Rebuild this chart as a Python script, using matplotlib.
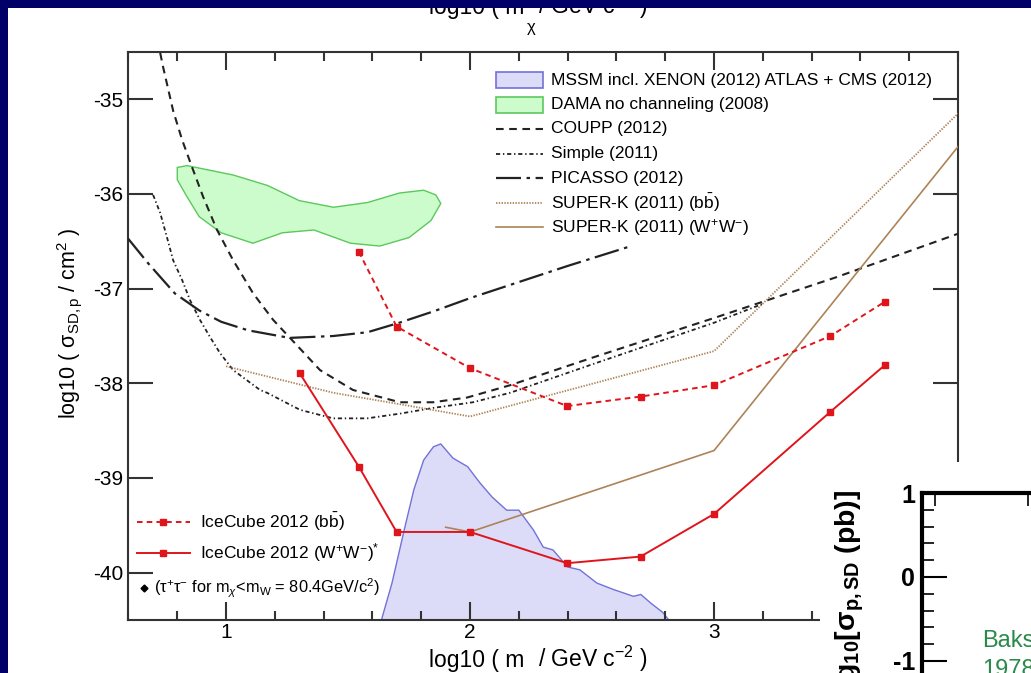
import numpy as np
import matplotlib.pyplot as plt
from matplotlib.patches import Rectangle, Polygon
from matplotlib.lines import Line2D
from matplotlib.transforms import Affine2D

plt.rcParams['font.family'] = ['Liberation Sans', 'DejaVu Sans']
plt.rcParams['mathtext.fontset'] = 'custom'
plt.rcParams['mathtext.rm'] = 'Liberation Sans'
plt.rcParams['mathtext.it'] = 'Liberation Sans:italic'
plt.rcParams['mathtext.bf'] = 'Liberation Sans:bold'
plt.rcParams['axes.unicode_minus'] = False
plt.rcParams['lines.scale_dashes'] = False

# ---- data (log10 of mass in GeV, log10 of cross section in cm^2) ----
ic_bb_mass = [35, 50, 100, 250, 500, 1000, 3000, 5000]
ic_bb = [-36.61, -37.40, -37.84, -38.24, -38.14, -38.02, -37.50, -37.14]
ic_ww_mass = [20, 35, 50, 100, 250, 500, 1000, 3000, 5000]
ic_ww = [-37.89, -38.88, -39.57, -39.57, -39.90, -39.83, -39.38, -38.30, -37.81]

coupp_x = [0.73, 0.742, 0.783, 0.82, 0.861, 0.906, 0.963, 1.029, 1.111, 1.193, 1.262,
           1.385, 1.52, 1.713, 1.848, 1.988, 2.164, 2.5, 3.0, 3.5, 4.0]
coupp_y = [-34.51, -34.66, -35.12, -35.43, -35.72, -36.03, -36.38, -36.70, -37.05, -37.33, -37.52,
           -37.86, -38.07, -38.20, -38.20, -38.15, -38.02, -37.73, -37.31, -36.88, -36.42]

simple_x = [0.701, 0.73, 0.758, 0.783, 0.82, 0.852, 0.893, 0.934, 0.975, 1.029, 1.139, 1.168,
            1.303, 1.439, 1.578, 1.713, 1.848, 2.012, 2.164, 2.5, 3.0, 3.2]
simple_y = [-36.01, -36.20, -36.46, -36.70, -36.91, -37.12, -37.33, -37.51, -37.68, -37.86, -38.07, -38.10,
            -38.28, -38.37, -38.37, -38.32, -38.26, -38.20, -38.10, -37.80, -37.36, -37.16]

picasso_x = [0.598, 0.68, 0.79, 0.89, 0.98, 1.09, 1.26, 1.44, 1.58, 1.71, 1.85, 2.0, 2.2, 2.4, 2.66]
picasso_y = [-36.47, -36.73, -37.05, -37.23, -37.35, -37.44, -37.52, -37.50, -37.46, -37.36, -37.24,
             -37.10, -36.93, -36.76, -36.55]

superk_bb_x = [1.0, 1.44, 1.71, 2.0, 3.0, 4.0]
superk_bb_y = [-37.82, -38.10, -38.22, -38.35, -37.66, -35.15]
superk_ww_x = [1.9, 2.0, 3.0, 4.0]
superk_ww_y = [-39.52, -39.57, -38.71, -35.50]

dama_x = [0.80, 0.84, 1.03, 1.17, 1.30, 1.44, 1.58, 1.71, 1.81, 1.86, 1.88, 1.84, 1.75, 1.63,
          1.51, 1.36, 1.23, 1.11, 0.98, 0.89, 0.84, 0.80]
dama_y = [-35.72, -35.70, -35.80, -35.91, -36.07, -36.14, -36.09, -35.99, -35.96, -36.01, -36.10,
          -36.28, -36.46, -36.55, -36.52, -36.38, -36.41, -36.52, -36.41, -36.24, -36.03, -35.85]

mssm_x = [1.63, 1.64, 1.68, 1.73, 1.77, 1.81, 1.85, 1.88, 1.91, 1.93, 1.99, 2.04, 2.09, 2.15, 2.20,
          2.26, 2.30, 2.34, 2.40, 2.45, 2.52, 2.59, 2.67, 2.70, 2.74, 2.79, 2.83]
mssm_y = [-40.6, -40.47, -40.11, -39.55, -39.12, -38.81, -38.67, -38.64, -38.73, -38.79, -38.88,
          -39.05, -39.20, -39.34, -39.34, -39.55, -39.73, -39.76, -39.94, -39.97, -40.11, -40.18,
          -40.25, -40.23, -40.32, -40.42, -40.55]

x_ticks = [1, 2, 3]
y_ticks = [-35, -36, -37, -38, -39, -40]
inset_ticks = [1, 0, -1]

# ---- styles ----
navy = '#000068'
red = '#e0151b'
brown = '#ad8358'
axcol = '#333333'

W, H = 1031, 673
fig = plt.figure(figsize=(W / 100, H / 100), dpi=100)
pix = Affine2D().scale(1 / W, -1 / H).translate(0, 1) + fig.transFigure


def box(l, t, r, b):
    return [l / W, 1 - b / H, (r - l) / W, (b - t) / H]


ax = fig.add_axes(box(128, 52, 958, 620))
ax.set_zorder(0)

ax.fill_between(mssm_x, mssm_y, -41, facecolor='#dcdcf8', edgecolor='none', zorder=1)
ax.plot(mssm_x, mssm_y, color='#7272d8', lw=1.0, zorder=1.5)
ax.add_patch(Polygon(np.column_stack([dama_x, dama_y]), closed=True, facecolor='#ccfccc',
                     edgecolor='#5cc85c', lw=1.0, zorder=1))

coupp_ls = dict(color='#222222', lw=1.5, ls=(0, (5.5, 4)))
simple_ls = dict(color='#222222', lw=1.3, ls=(0, (3, 2, 1, 2)))
picasso_ls = dict(color='#222222', lw=1.6, ls=(0, (18, 4, 2.5, 4)))
skbb_ls = dict(color=brown, lw=1.3, ls=(0, (1, 1)))
skww_ls = dict(color=brown, lw=1.2)

ax.plot(coupp_x, coupp_y, zorder=3, **coupp_ls)
ax.plot(simple_x, simple_y, zorder=3, **simple_ls)
ax.plot(picasso_x, picasso_y, zorder=3, **picasso_ls)
ax.plot(superk_bb_x, superk_bb_y, zorder=3, **skbb_ls)
ax.plot(superk_ww_x, superk_ww_y, zorder=3, **skww_ls)
ax.plot(np.log10(ic_bb_mass), ic_bb, color=red, lw=1.4, ls=(0, (4, 3)), marker='s', ms=5,
        zorder=4)
ax.plot(np.log10(ic_ww_mass), ic_ww, color=red, lw=1.4, marker='s', ms=5, zorder=4)

ax.set_xlim(0.598, 4.0)
ax.set_ylim(-40.5, -34.5)
ax.set_xticks(x_ticks)
ax.set_xticks(np.arange(0.6, 4.01, 0.2), minor=True)
ax.set_yticks(y_ticks)
ax.tick_params(axis='x', which='major', direction='in', top=True, length=13, width=1.5,
               color=axcol, labelsize=15, pad=2.5)
ax.tick_params(axis='x', which='minor', direction='in', top=True, length=6.5, width=1.5,
               color=axcol)
ax.tick_params(axis='y', which='major', direction='in', right=True, length=18, width=1.5,
               color=axcol, labelsize=15, pad=3.5)
for s in ax.spines.values():
    s.set_color(axcol)
    s.set_linewidth(1.5)

# ---- legend (upper right) ----
leg_rows = [80, 104.5, 129, 153.5, 178, 202.5, 227]
leg_labels = ['MSSM incl. XENON (2012) ATLAS + CMS (2012)', 'DAMA no channeling (2008)',
              'COUPP (2012)', 'Simple (2011)', 'PICASSO (2012)',
              r'SUPER-K (2011) (b$\bar{\mathrm{b}}$)', r'SUPER-K (2011) (W$^{+}$W$^{-}$)']
ax.add_patch(Rectangle((496, leg_rows[0] - 8), 47, 16, transform=pix, facecolor='#dcdcf8',
                       edgecolor='#7272d8', lw=1.2, clip_on=False, zorder=5))
ax.add_patch(Rectangle((496, leg_rows[1] - 8), 47, 16, transform=pix, facecolor='#ccfccc',
                       edgecolor='#5cc85c', lw=1.2, clip_on=False, zorder=5))
for row, st in zip(leg_rows[2:], [coupp_ls, simple_ls, picasso_ls, skbb_ls, skww_ls]):
    ax.add_line(Line2D([496, 543], [row, row], transform=pix, clip_on=False, zorder=5, **st))
for row, lab in zip(leg_rows, leg_labels):
    ax.text(551, row, lab, transform=pix, fontsize=12.5, va='center', ha='left', zorder=5)

# ---- legend (lower left) ----
ax.add_line(Line2D([137, 190], [522, 522], transform=pix, color=red, lw=1.4, ls=(0, (4, 3)),
                   clip_on=False, zorder=5))
ax.add_line(Line2D([163], [522], transform=pix, color=red, marker='s', ms=5, clip_on=False,
                   zorder=5))
ax.add_line(Line2D([137, 190], [553, 553], transform=pix, color=red, lw=1.4, clip_on=False,
                   zorder=5))
ax.add_line(Line2D([163], [553], transform=pix, color=red, marker='s', ms=5, clip_on=False,
                   zorder=5))
ax.text(200, 522, r'IceCube 2012 (b$\bar{\mathrm{b}}$)', transform=pix, fontsize=12.5,
        va='center', zorder=5)
ax.text(200, 553, r'IceCube 2012 (W$^{+}$W$^{-}$)$^{*}$', transform=pix, fontsize=12.5,
        va='center', zorder=5)
ax.add_line(Line2D([144], [588], transform=pix, color='black', marker='D', ms=3.5,
                   clip_on=False, zorder=5))
ax.text(154, 588, r'(τ$^{+}$τ$^{-}$ for m$_{\chi}$<m$_{\mathrm{W}}$ = 80.4GeV/c$^{2}$)',
        transform=pix, fontsize=11.8, va='center', zorder=5)

# ---- axis titles (subscript chi sits low, as in the slide) ----
for base in (667, 14):
    fig.text(524, base, 'log10 ( m', transform=pix, fontsize=16.5, ha='right', va='baseline',
             zorder=3)
    fig.text(538, base, r'/ GeV c$^{-2}$ )', transform=pix, fontsize=16.5, ha='left',
             va='baseline', zorder=3)
    fig.text(531, base + 18, 'χ', transform=pix, fontsize=12, ha='center', va='baseline',
             zorder=3)
fig.text(70, 323, r'log10 ( σ$_{\mathrm{SD,p}}$ / cm$^{2}$ )', transform=pix, fontsize=15.5,
         rotation=90, ha='center', va='center', zorder=3)

# ---- overlapping second slide chart (bottom right) ----
fig.add_artist(Rectangle((820 / W, 0), (W - 820) / W, (H - 462) / H, transform=fig.transFigure,
                         facecolor='white', edgecolor='none', zorder=1))
ax2 = fig.add_axes(box(922, 493, 1400, 700))
ax2.set_zorder(2)
ax2.patch.set_alpha(0)
ax2.set_ylim(1 - 207 / 84, 1)
ax2.set_xlim(0, 1)
ax2.set_yticks(inset_ticks)
ax2.set_yticks(np.arange(-1.4, 1.0, 0.2), minor=True)
ax2.set_xticks([])
ax2.set_xticks([13 / 478, 106 / 478], minor=True)
ax2.tick_params(axis='y', which='major', direction='in', length=18, width=1.5, labelsize=18,
                pad=5)
ax2.tick_params(axis='y', which='minor', direction='in', length=8.6, width=1.2)
ax2.tick_params(axis='x', which='minor', direction='in', top=True, bottom=False, length=9,
                width=1.2)
for lab in ax2.get_yticklabels():
    lab.set_fontweight('bold')
ax2.spines['right'].set_visible(False)
ax2.spines['bottom'].set_visible(False)
ax2.spines['left'].set_linewidth(3)
ax2.spines['top'].set_linewidth(3)
fig.text(850, 490, r'log$_{\mathbf{10}}$[$\mathbf{\sigma}_{\mathbf{p,SD}}$ (pb)]',
         transform=pix, fontsize=20.5, fontweight='bold', rotation=90, ha='center', va='top',
         zorder=3)
fig.text(982, 647, 'Baksan', transform=pix, fontsize=17, color='#2a8a4a', zorder=3)
fig.text(982, 676, '1978', transform=pix, fontsize=17, color='#2a8a4a', zorder=3)

# ---- slide border ----
fig.add_artist(Rectangle((0, 1 - 8 / H), 1, 8 / H, transform=fig.transFigure, facecolor=navy,
                         edgecolor='none', zorder=10))
fig.add_artist(Rectangle((0, 0), 8 / W, 1, transform=fig.transFigure, facecolor=navy,
                         edgecolor='none', zorder=10))

fig.savefig('out.png', dpi=100, facecolor='white')
